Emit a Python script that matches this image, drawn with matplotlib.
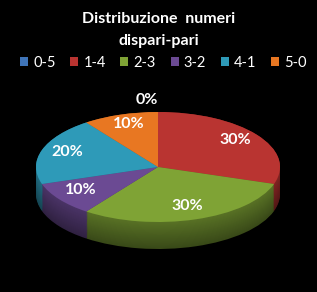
import matplotlib
matplotlib.use("Agg")
import matplotlib.pyplot as plt
import numpy as np
from matplotlib.patches import Patch
import matplotlib.colors as mcolors

categories = ["0-5", "1-4", "2-3", "3-2", "4-1", "5-0"]
values = [0, 30, 30, 10, 20, 10]
colors = ["#3F74B8", "#B93431", "#7FA335", "#6B4A93", "#2E9AB8", "#E87722"]
title = "Distribuzione  numeri\ndispari-pari"

W, H = 317, 292
fig = plt.figure(figsize=(W/100, H/100), dpi=100, facecolor="black")
ax = fig.add_axes([0, 0, 1, 1])
ax.set_facecolor("black")
ax.axis("off")

cx_px, cy_px = 158, 167
sx, sy = 122, 55   # semi axes in px
depth = 27 / sy

def darker(c, f):
    r, g, b = mcolors.to_rgb(c)
    return (r*f, g*f, b*f)

n_layers = 30
for i in range(n_layers):
    off = -depth + depth * i / (n_layers - 1)
    f = 0.45 + 0.25 * i / (n_layers - 1)
    ax.pie(values, colors=[darker(c, f) for c in colors], startangle=90,
           counterclock=False, center=(0, off), radius=1,
           wedgeprops=dict(linewidth=0), frame=False)

wedges, texts, autotexts = ax.pie(values, colors=colors, startangle=90,
       counterclock=False, center=(0, 0), radius=1,
       autopct=lambda p: f"{p:.0f}%", pctdistance=0.72,
       wedgeprops=dict(linewidth=0), frame=False,
       textprops=dict(color="white", fontsize=11.5, fontweight="bold", family="Lato"))

for w, t, v in zip(wedges, autotexts, values):
    ang = np.deg2rad((w.theta1 + w.theta2) / 2)
    if v == 0:
        t.set_position((1.27*np.cos(ang) - 0.09, 1.22*np.sin(ang)))
    else:
        t.set_position((0.78*np.cos(ang), 0.78*np.sin(ang) + 0.04))

ax.set_aspect("auto")
ax.set_xlim(-cx_px/sx, (W-cx_px)/sx)
ax.set_ylim(-(H-cy_px)/sy, cy_px/sy)

fig.text(0.5, 1-30/H, title, color="white", fontsize=11.5, fontweight="bold",
         family="Lato", ha="center", va="center", linespacing=1.75)

handles = [Patch(facecolor=c, edgecolor="none") for c in colors]
leg = fig.legend(handles, categories, loc="center", bbox_to_anchor=(0.515, 1-63/H),
                 ncol=6, frameon=False, handlelength=0.55, handleheight=0.55,
                 handletextpad=0.35, columnspacing=1.0,
                 prop=dict(family="Lato", size=10.5))
for t in leg.get_texts():
    t.set_color("white")

fig.savefig("out.png", dpi=100, facecolor="black")
